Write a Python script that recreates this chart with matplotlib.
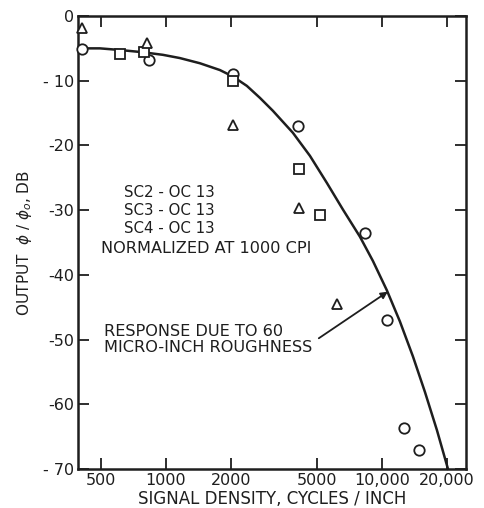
import matplotlib
matplotlib.use("Agg")
import matplotlib.pyplot as plt

# Measured response, normalized at 1000 CPI (dB vs cycles/inch)
sc2_density = [407, 837, 2051, 4098, 8337, 10560, 12680, 14830]
sc2_output = [-5.1, -6.8, -8.9, -17.0, -33.5, -47.0, -63.6, -67.0]

sc3_density = [612, 794, 2036, 4130, 5166]
sc3_output = [-5.9, -5.6, -10.0, -23.6, -30.8]

sc4_density = [411, 822, 2051, 4130, 6209]
sc4_output = [-1.9, -4.2, -16.8, -29.7, -44.5]

# Calculated response for 60 micro-inch roughness
curve_density = [407, 495, 612, 783, 969, 1161, 1437, 1778, 2043, 2371,
                 2725, 3129, 3873, 4642, 5564, 6598, 7910, 9085, 10546,
                 12114, 13916, 15819, 17976, 20212]
curve_output = [-5.0, -5.0, -5.25, -5.6, -6.0, -6.5, -7.3, -8.35, -9.35,
                -10.8, -12.65, -14.65, -18.05, -21.6, -25.8, -29.9, -34.1,
                -37.85, -42.4, -47.2, -52.6, -58.1, -64.0, -69.97]

x_ticks = [500, 1000, 2000, 5000, 10000, 20000]
x_tick_labels = ["500", "1000", "2000", "5000", "10,000", "20,000"]
y_ticks = [0, -10, -20, -30, -40, -50, -60, -70]
y_tick_labels = ["0", "- 10", "-20", "-30", "-40", "-50", "-60", "- 70"]

ink = "#1e1e1e"
plt.rcParams["font.family"] = ["DejaVu Sans"]

fig = plt.figure(figsize=(4.85, 5.08), dpi=100)
ax = fig.add_axes([0.1608, 0.0768, 0.8, 0.8917])

ax.set_xscale("log")
ax.set_xlim(392, 24500)
ax.set_ylim(-70, 0)

ax.plot(curve_density, curve_output, color=ink, lw=1.8,
        solid_joinstyle="round", clip_on=False, zorder=2)

mk = dict(linestyle="none", markerfacecolor="white", markeredgecolor=ink,
          markeredgewidth=1.3, clip_on=False, zorder=3)
ax.plot(sc2_density, sc2_output, marker="o", markersize=7.5, **mk)
ax.plot(sc3_density, sc3_output, marker="s", markersize=6.5, **mk)
ax.plot(sc4_density, sc4_output, marker="^", markersize=6.5, **mk)

ax.set_xticks(x_ticks)
ax.set_xticklabels(x_tick_labels)
ax.xaxis.set_minor_locator(matplotlib.ticker.NullLocator())
ax.set_yticks(y_ticks)
ax.set_yticklabels(y_tick_labels)

ax.tick_params(axis="both", which="major", direction="in", length=8,
               width=1.3, color=ink, labelcolor=ink, labelsize=11.5,
               top=True, right=True)
ax.tick_params(axis="x", pad=3)
ax.tick_params(axis="y", pad=3)

for s in ax.spines.values():
    s.set_linewidth(1.8)
    s.set_color(ink)

ax.set_xlabel("SIGNAL DENSITY, CYCLES / INCH", fontsize=12, color=ink,
              labelpad=1)
ax.set_ylabel(r"OUTPUT  $\phi$ / $\phi_o$, DB", fontsize=11, color=ink,
              labelpad=6)

txt = dict(fontsize=10.8, color=ink, ha="center", va="center")
ax.text(1043, -27.3, "SC2 - OC 13", **txt)
ax.text(1043, -30.1, "SC3 - OC 13", **txt)
ax.text(1043, -32.9, "SC4 - OC 13", **txt)
ax.text(1532, -35.9, "NORMALIZED AT 1000 CPI", fontsize=11.6, color=ink,
        ha="center", va="center")

note = dict(fontsize=11.6, color=ink, ha="left", va="center")
ax.text(516, -48.75, "RESPONSE DUE TO 60", **note)
ax.text(516, -51.2, "MICRO-INCH ROUGHNESS", **note)

ax.annotate("", xy=(10650, -42.6), xytext=(5104, -49.8),
            arrowprops=dict(arrowstyle="-|>", color=ink, lw=1.3,
                            mutation_scale=10, shrinkA=0, shrinkB=0))

fig.savefig("out.png", dpi=100, facecolor="white")
